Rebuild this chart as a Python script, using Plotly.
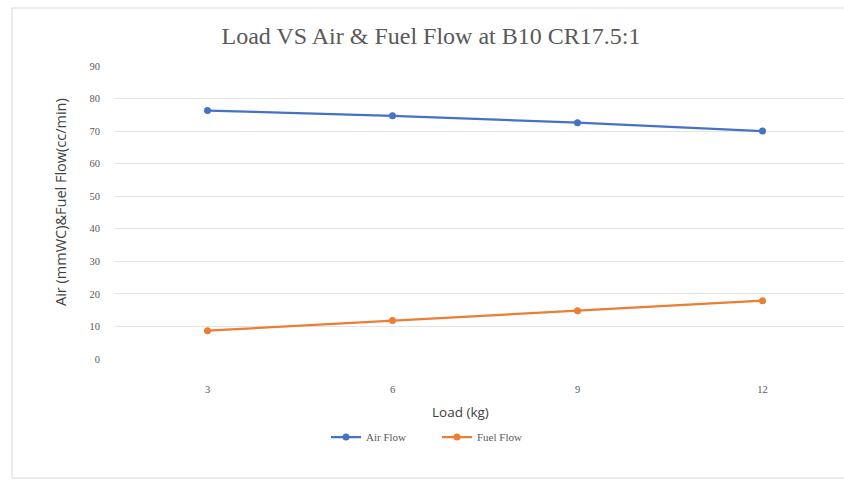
import plotly.graph_objects as go

# Engine test data: load in kg against air and fuel flow
load_kg = [3, 6, 9, 12]
air_flow = [76.3, 74.7, 72.6, 70.0]
fuel_flow = [8.7, 11.8, 14.8, 17.9]
y_ticks = [0, 10, 20, 30, 40, 50, 60, 70, 80, 90]

AIR_COLOR = "#4472C4"
FUEL_COLOR = "#ED7D31"
TEXT_GRAY = "#595959"
SERIF = "Liberation Serif, Times New Roman, serif"
SANS = "Open Sans, Liberation Sans, Arial, sans-serif"

W, H = 844, 482
L, T, B, R = 115, 66, 123, 0
plot_w = W - L - R
plot_h = H - T - B


def px_x(px):
    return (px - L) / plot_w


def px_y(py):
    return (H - B - py) / plot_h


fig = go.Figure()
fig.add_trace(go.Scatter(
    x=load_kg, y=air_flow, name="Air Flow", mode="lines+markers",
    line=dict(color=AIR_COLOR, width=2.25),
    marker=dict(color=AIR_COLOR, size=7),
))
fig.add_trace(go.Scatter(
    x=load_kg, y=fuel_flow, name="Fuel Flow", mode="lines+markers",
    line=dict(color=FUEL_COLOR, width=2.25),
    marker=dict(color=FUEL_COLOR, size=7),
))

fig.update_layout(
    width=W, height=H,
    margin=dict(l=L, r=R, t=T, b=B),
    paper_bgcolor="white", plot_bgcolor="white",
    title=dict(
        text="Load VS Air &amp; Fuel Flow at B10 CR17.5:1",
        font=dict(family=SERIF, size=24, color=TEXT_GRAY),
        x=431 / W, xref="container", xanchor="center",
        y=1 - 36 / H, yref="container", yanchor="middle",
    ),
    xaxis=dict(
        range=[1.5, 1.5 + plot_w / (185 / 3)],
        tickvals=load_kg, ticktext=[str(v) for v in load_kg],
        showgrid=False, zeroline=False, showline=False,
        ticks="", ticklabelstandoff=22,
        tickfont=dict(family=SERIF, size=10.5, color=TEXT_GRAY),
    ),
    yaxis=dict(
        range=[0, 90], tickvals=y_ticks,
        showgrid=True, gridcolor="#E3E3E3", gridwidth=1,
        zeroline=False, showline=False, ticks="",
        ticklabelstandoff=14,
        tickfont=dict(family=SERIF, size=10.5, color=TEXT_GRAY),
    ),
    showlegend=True,
    legend=dict(
        orientation="h", x=px_x(437), xanchor="center",
        y=px_y(437), yanchor="middle",
        font=dict(family=SERIF, size=11, color=TEXT_GRAY),
        entrywidth=66, entrywidthmode="pixels",
        bgcolor="rgba(0,0,0,0)",
    ),
    annotations=[
        dict(text="Air (mmWC)&amp;Fuel Flow(cc/min)", textangle=-90,
             x=px_x(60), y=px_y(202), xref="paper", yref="paper",
             showarrow=False, xanchor="center", yanchor="middle",
             font=dict(family=SANS, size=14.5, color="#404040")),
        dict(text="Load (kg)",
             x=px_x(460), y=px_y(412), xref="paper", yref="paper",
             showarrow=False, xanchor="center", yanchor="middle",
             font=dict(family=SANS, size=13.5, color="#404040")),
    ],
    shapes=[
        dict(type="rect", xref="paper", yref="paper",
             x0=px_x(12), x1=px_x(950), y0=px_y(478), y1=px_y(8),
             line=dict(color="#D9D9D9", width=1), layer="below"),
    ],
)

fig.write_html("out.html")
